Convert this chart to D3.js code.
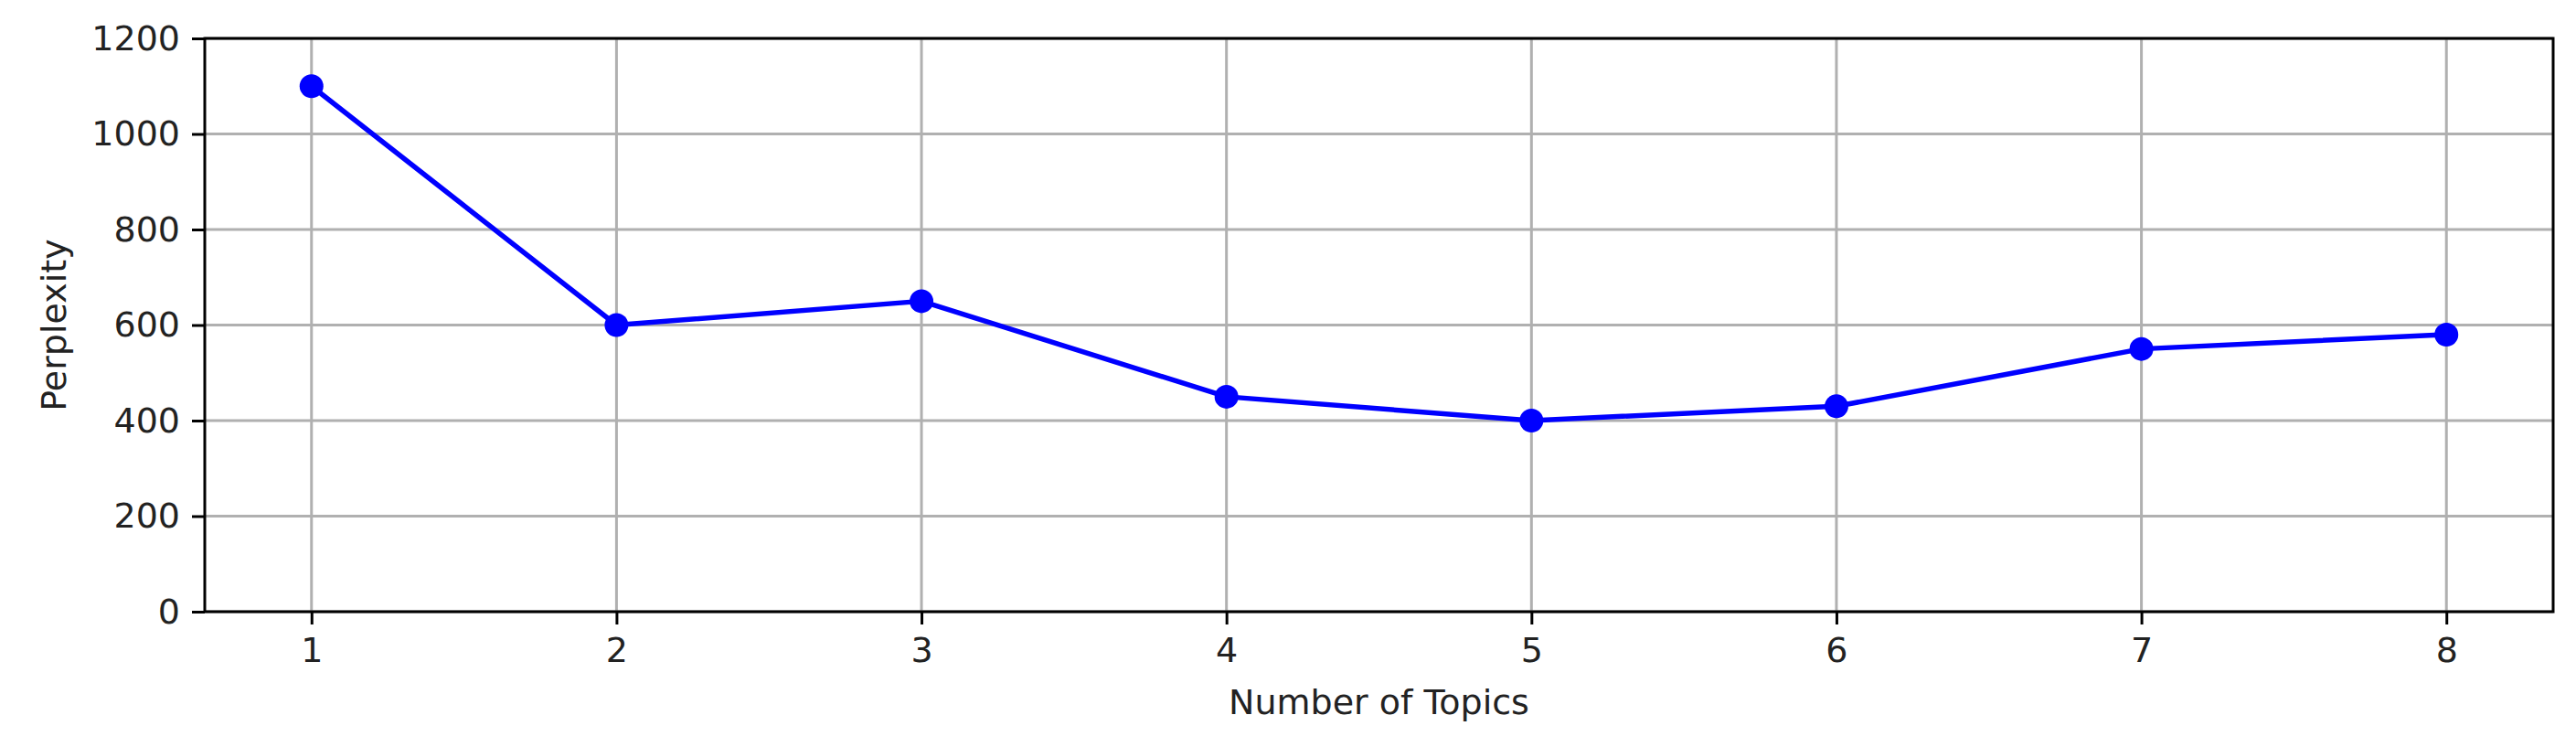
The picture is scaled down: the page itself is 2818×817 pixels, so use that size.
<!DOCTYPE html>
<html>
<head>
<meta charset="utf-8">
<script src="https://cdn.jsdelivr.net/npm/d3@7"></script>
<style>
  html, body { margin: 0; padding: 0; background: #fff; }
  svg { display: block; }
</style>
</head>
<body>
<svg id="chart" width="2818" height="817"></svg>
<script>
const topics = [1, 2, 3, 4, 5, 6, 7, 8];
const perplexity = [1100, 600, 650, 450, 400, 430, 550, 580];
const yTicks = [0, 200, 400, 600, 800, 1000, 1200];
const xLabel = "Number of Topics";
const yLabel = "Perplexity";

const W = 2818, H = 817;
const plot = { left: 224, right: 2793, top: 42, bottom: 669 };
const font = "'DejaVu Sans', sans-serif";
const fontSize = 38;

const svg = d3.select("#chart");

// matplotlib-style 5% margins around x data
const xMin = d3.min(topics), xMax = d3.max(topics);
const pad = (xMax - xMin) * 0.05;
const x = d3.scaleLinear().domain([xMin - pad, xMax + pad]).range([plot.left, plot.right]);
const y = d3.scaleLinear().domain([0, 1200]).range([plot.bottom, plot.top]);

// grid
const grid = svg.append("g");
grid.selectAll("line.gx").data(topics).enter().append("line")
  .attr("x1", d => x(d)).attr("x2", d => x(d))
  .attr("y1", plot.top).attr("y2", plot.bottom)
  .attr("stroke", "#b0b0b0").attr("stroke-width", 3);
grid.selectAll("line.gy").data(yTicks).enter().append("line")
  .attr("x1", plot.left).attr("x2", plot.right)
  .attr("y1", d => y(d)).attr("y2", d => y(d))
  .attr("stroke", "#b0b0b0").attr("stroke-width", 3);

// line + markers
const line = d3.line().x((d, i) => x(topics[i])).y(d => y(d));
svg.append("path").datum(perplexity)
  .attr("d", line).attr("fill", "none")
  .attr("stroke", "#0000ff").attr("stroke-width", 5.5)
  .attr("stroke-linejoin", "round").attr("stroke-linecap", "square");
svg.selectAll("circle.pt").data(perplexity).enter().append("circle")
  .attr("cx", (d, i) => x(topics[i])).attr("cy", d => y(d))
  .attr("r", 13).attr("fill", "#0000ff");

// axes
const xAxis = d3.axisBottom(x).tickValues(topics).tickFormat(d3.format("d"))
  .tickSize(14).tickPadding(14);
const yAxis = d3.axisLeft(y).tickValues(yTicks).tickFormat(d3.format("d"))
  .tickSize(14).tickPadding(13);

const gx = svg.append("g").attr("transform", `translate(0,${plot.bottom})`).call(xAxis);
const gy = svg.append("g").attr("transform", `translate(${plot.left},0)`).call(yAxis);
[gx, gy].forEach(g => {
  g.select(".domain").remove();
  g.selectAll(".tick line").attr("stroke", "#000").attr("stroke-width", 3);
  g.selectAll(".tick text").attr("fill", "#222").style("font-family", font).style("font-size", fontSize + "px");
});

// frame
svg.append("rect")
  .attr("x", plot.left).attr("y", plot.top)
  .attr("width", plot.right - plot.left).attr("height", plot.bottom - plot.top)
  .attr("fill", "none").attr("stroke", "#000").attr("stroke-width", 3);

// labels
svg.append("text")
  .attr("x", (plot.left + plot.right) / 2).attr("y", 781)
  .attr("text-anchor", "middle").attr("fill", "#222")
  .style("font-family", font).style("font-size", fontSize + "px")
  .text(xLabel);
svg.append("text")
  .attr("transform", `translate(72,${(plot.top + plot.bottom) / 2}) rotate(-90)`)
  .attr("text-anchor", "middle").attr("fill", "#222")
  .style("font-family", font).style("font-size", fontSize + "px")
  .text(yLabel);
</script>
</body>
</html>
